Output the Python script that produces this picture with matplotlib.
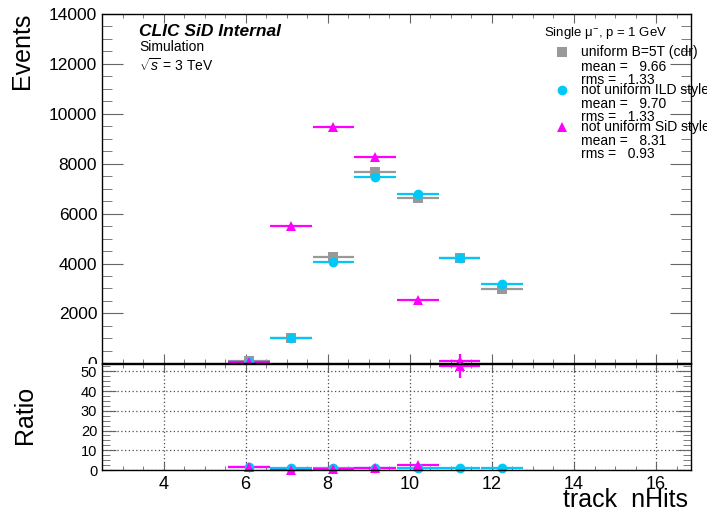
import numpy as np
import matplotlib as mpl
from matplotlib import pyplot as plt
from matplotlib.ticker import MultipleLocator
from matplotlib.lines import Line2D
from matplotlib.patches import Rectangle

mpl.rcParams['font.family'] = ['Liberation Sans', 'DejaVu Sans']
mpl.rcParams['mathtext.fontset'] = 'custom'
mpl.rcParams['mathtext.rm'] = 'Liberation Sans'
mpl.rcParams['mathtext.it'] = 'Liberation Sans:italic'

# histogram: 14 bins over [2.5, 16.85], filled bins for nHits 6..12
bin_centers = [6.09, 7.11, 8.14, 9.16, 10.19, 11.21, 12.24]
half_width = 0.51

uniform_cdr = [80, 1023, 4245, 7652, 6620, 4217, 2968]
ild_style = [60, 1023, 4068, 7479, 6794, 4217, 3182]
sid_style = [47, 5505, 9452, 8256, 2537, 80, 0]

labels = ['uniform B=5T (cdr)', 'not uniform ILD style', 'not uniform SiD style']
means = [9.66, 9.70, 8.31]
rmss = [1.33, 1.33, 0.93]

grey = '#999999'
cyan = '#00c8f8'
magenta = '#ff00ff'

W, H = 707, 512
fig = plt.figure(figsize=(W / 100, H / 100), dpi=100)

def fx(x):
    return x / W

def fy(y):
    return 1 - y / H

ax = fig.add_axes([fx(102), fy(363.3), (691 - 102) / W, (363.3 - 14) / H])
rax = fig.add_axes([fx(102), fy(470), (691 - 102) / W, (470 - 363.5) / H], zorder=1)

x = np.array(bin_centers)
series = [
    (np.array(uniform_cdr, float), grey, 's', 6.5),
    (np.array(ild_style, float), cyan, 'o', 7),
    (np.array(sid_style, float), magenta, '^', 7),
]

for vals, color, marker, ms in series:
    m = vals > 0
    ax.errorbar(x[m], vals[m], xerr=half_width, yerr=np.sqrt(vals[m]),
                fmt=marker, color=color, ms=ms, mew=0, elinewidth=1.6, capsize=0)

ax.set_xlim(2.5, 16.85)
ax.set_ylim(0, 14000)
ax.xaxis.set_major_locator(MultipleLocator(2))
ax.xaxis.set_minor_locator(MultipleLocator(0.5))
ax.yaxis.set_major_locator(MultipleLocator(2000))
ax.yaxis.set_minor_locator(MultipleLocator(500))
ax.tick_params(axis='x', which='both', direction='in', top=True, bottom=True,
               labelbottom=False, color='#666666')
ax.tick_params(axis='x', which='major', length=6.5)
ax.tick_params(axis='x', which='minor', length=3)
ax.tick_params(axis='y', which='both', direction='in', left=True, right=True,
               color='#666666', labelsize=12.5, pad=3.5)
ax.tick_params(axis='y', which='major', length=15)
ax.tick_params(axis='y', which='minor', length=7.5)
for s in ax.spines.values():
    s.set_linewidth(1.0)

# ratio panel
ref = np.array(uniform_cdr, float)
for vals, color, marker, ms in series[1:]:
    m = vals > 0
    r = ref[m] / vals[m]
    rerr = r * np.sqrt(1 / ref[m] + 1 / vals[m])
    cont = rax.errorbar(x[m], r, xerr=half_width, yerr=rerr, fmt=marker, color=color,
                        ms=ms, mew=0, elinewidth=1.6, capsize=0)
    for art in cont.get_children():
        art.set_clip_on(False)

rax.set_xlim(2.5, 16.85)
rax.set_ylim(0, 54)
rax.xaxis.set_major_locator(MultipleLocator(2))
rax.xaxis.set_minor_locator(MultipleLocator(0.5))
rax.yaxis.set_major_locator(MultipleLocator(10))
rax.yaxis.set_minor_locator(MultipleLocator(2.5))
rax.grid(True, which='major', linestyle=(0, (1, 2)), linewidth=0.9, color='0.3')
rax.set_axisbelow(True)
rax.tick_params(axis='x', which='both', direction='in', top=True, color='#666666',
                labelsize=13, pad=4)
rax.tick_params(axis='x', which='major', length=6)
rax.tick_params(axis='x', which='minor', length=3)
rax.tick_params(axis='y', which='both', direction='in', left=True, right=True,
                color='#666666', labelsize=10.5, pad=3.5)
rax.tick_params(axis='y', which='major', length=10)
rax.tick_params(axis='y', which='minor', length=5.5)
for s in rax.spines.values():
    s.set_linewidth(1.0)

# ratio pad hides lower half of the top "0" label
fig.add_artist(Rectangle((fx(55), fy(372)), (101 - 55) / W, (372 - 363.6) / H,
                         transform=fig.transFigure, facecolor='white',
                         edgecolor='none', zorder=0.5))

# axis titles
fig.text(fx(22), fy(13), 'Events', rotation=90, ha='center', va='top', fontsize=18)
fig.text(fx(25), fy(415), 'Ratio', rotation=90, ha='center', va='center', fontsize=18)
fig.text(fx(688), fy(500), 'track  nHits', ha='right', va='center', fontsize=18)

# labels
fig.text(fx(139), fy(31), 'CLIC SiD Internal', ha='left', va='center',
         fontsize=12.5, fontweight='bold', fontstyle='italic')
fig.text(fx(139), fy(47), 'Simulation', ha='left', va='center', fontsize=10)
fig.text(fx(139), fy(66), r'$\sqrt{s}$ = 3 TeV', ha='left', va='center', fontsize=10)

# legend
fig.text(fx(544), fy(33), 'Single μ$^{-}$, p = 1 GeV', ha='left', va='center', fontsize=9.5)
rows = [(52, 67, 80), (90, 104, 117), (127, 141, 154)]
for (vals, color, marker, ms), lab, mu, rms, (y0, y1, y2) in zip(series, labels, means, rmss, rows):
    fig.add_artist(Line2D([fx(562)], [fy(y0)], marker=marker, color=color, ms=ms,
                          mew=0, linestyle='none', transform=fig.transFigure))
    fig.text(fx(581), fy(y0), lab, ha='left', va='center', fontsize=10)
    fig.text(fx(581), fy(y1), 'mean =   %.2f' % mu, ha='left', va='center', fontsize=10)
    fig.text(fx(581), fy(y2), 'rms =   %.2f' % rms, ha='left', va='center', fontsize=10)

fig.savefig('out.png', dpi=100)
